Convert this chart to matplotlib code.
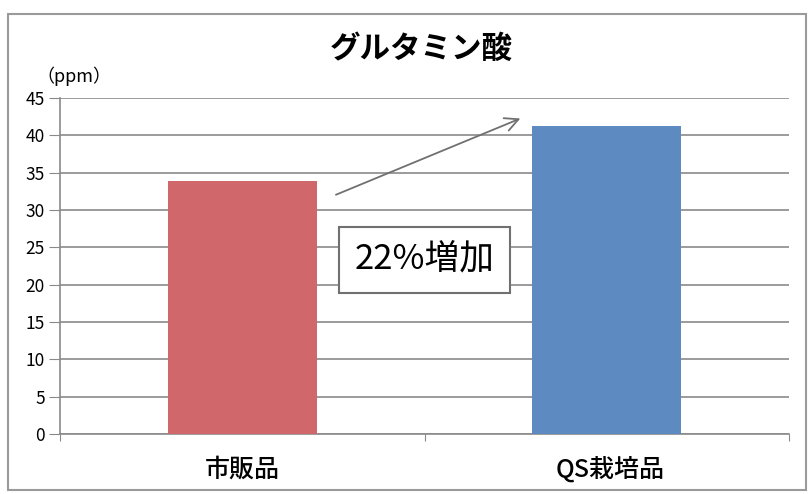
import numpy as np
import matplotlib
matplotlib.use("Agg")
import matplotlib.pyplot as plt
from matplotlib.patches import Rectangle

plt.rcParams['font.family'] = ['Noto Sans CJK JP', 'DejaVu Sans']

# data
categories = ['市販品', 'QS栽培品']
values = [33.9, 41.3]
bar_colors = ['#D0686B', '#5E8AC2']
yticks = np.arange(0, 50, 5)

fig = plt.figure(figsize=(8.11, 4.94), dpi=100)
ax = fig.add_axes([60 / 811, 60 / 494, 729 / 811, 336 / 494])

x = np.arange(len(categories))
ax.bar(x, values, width=0.41, color=bar_colors, zorder=3)

ax.set_xlim(-0.5, 1.5)
ax.set_ylim(0, 45)
ax.set_yticks(yticks)
ax.set_yticklabels([str(t) for t in yticks], fontsize=12.5)
ax.yaxis.grid(True, color='#8a8a8a', linewidth=1.2, zorder=0)
ax.tick_params(axis='y', length=8, color='#8a8a8a', pad=3)

# category labels and boundary ticks
ax.set_xticks([-0.5, 0.5, 1.5])
ax.set_xticklabels([])
ax.tick_params(axis='x', length=5, color='#8a8a8a')
for xi, name in zip(x, categories):
    ax.text(xi + (0.01 if xi else 0), -3.0, name, ha='center', va='top',
            fontsize=18, fontweight='medium')

for s in ['top', 'right']:
    ax.spines[s].set_visible(False)
ax.spines['left'].set_color('#8a8a8a')
ax.spines['bottom'].set_color('#8a8a8a')
ax.spines['left'].set_linewidth(1.2)
ax.spines['bottom'].set_linewidth(1.2)

# title and unit
fig.text(421 / 811, 1 - 49 / 494, 'グルタミン酸', ha='center', va='center',
         fontsize=22, fontweight='bold')
fig.text(36 / 811, 1 - 76 / 494, '（ppm）', ha='left', va='center', fontsize=13)

# annotation arrow and box
ax.annotate('', xy=(0.77, 42.4), xytext=(0.25, 31.9),
            arrowprops=dict(arrowstyle='->', color='#707070', lw=1.3,
                            mutation_scale=24), zorder=5)
ax.text(0.5, 23.3, '22%増加', ha='center', va='center', fontsize=25, zorder=6,
        bbox=dict(boxstyle='square,pad=0.45', facecolor='white',
                  edgecolor='#707070', linewidth=1.5))

# outer frame
fig.patches.append(Rectangle((8 / 811, 4 / 494), 798 / 811, 476 / 494,
                             transform=fig.transFigure, fill=False,
                             edgecolor='#9a9a9a', linewidth=1.5))

fig.savefig('out.png', dpi=100)
